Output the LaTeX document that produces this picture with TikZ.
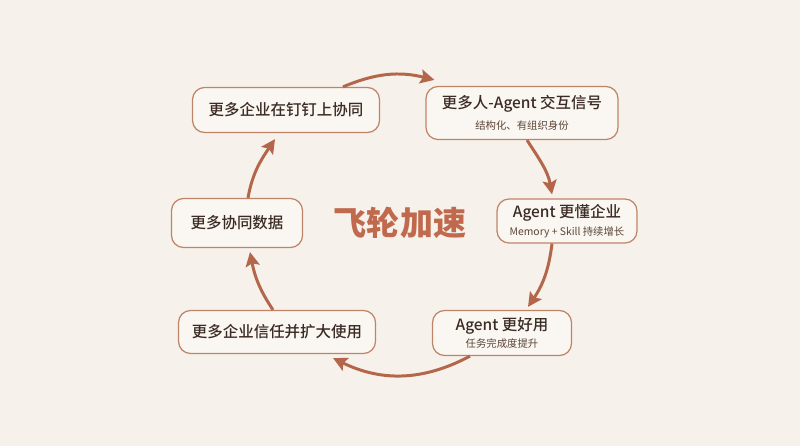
\documentclass[tikz,border=0pt]{standalone}
\usepackage{fontspec}
\setmainfont{Noto Sans CJK SC}
\newfontfamily\medfont{Noto Sans CJK SC Medium}
\usepackage{tikz}
\usetikzlibrary{arrows.meta, positioning}

\definecolor{bgcream}{HTML}{F6F1EB}
\definecolor{boxfill}{HTML}{FAF6F1}
\definecolor{boxline}{HTML}{BF8468}
\definecolor{flowline}{HTML}{B4664A}
\definecolor{darktext}{HTML}{3B2B24}
\definecolor{subtext}{HTML}{5A4638}
\definecolor{hubtext}{HTML}{C0694C}

\begin{document}
\begin{tikzpicture}[x=0.02cm, y=0.02cm]
    \tikzstyle{stage} = [rectangle, draw=boxline, line width=0.7pt, fill=boxfill, rounded corners=0.24cm, align=center, inner sep=0pt, text=darktext, font=\medfont\fontsize{8.8}{10}\selectfont]
    \tikzstyle{flow} = [draw=flowline, line width=1.7pt, -{Stealth[length=8pt, width=8pt, inset=1.5pt]}]

    \fill [bgcream] (0,0) rectangle (800,-446);
    \useasboundingbox (0,0) rectangle (800,-446);

    \node [stage, minimum width=3.74cm, minimum height=0.9cm] (together) at (286,-110) {更多企业在钉钉上协同};
    \node [stage, minimum width=3.84cm, minimum height=1.06cm] (signals) at (522,-113) {更多人-Agent 交互信号\\[2pt]{\normalfont\fontsize{5.9}{7}\selectfont\color{subtext}结构化、有组织身份}};
    \node [stage, minimum width=2.8cm, minimum height=0.88cm] (knows) at (567,-221) {Agent 更懂企业\\{\normalfont\fontsize{5.9}{7}\selectfont\color{subtext}Memory + Skill 持续增长}};
    \node [stage, minimum width=2.78cm, minimum height=0.9cm] (better) at (502,-333) {Agent 更好用\\{\normalfont\fontsize{5.9}{7}\selectfont\color{subtext}任务完成度提升}};
    \node [stage, minimum width=3.94cm, minimum height=0.86cm] (trust) at (277,-332) {更多企业信任并扩大使用};
    \node [stage, minimum width=2.62cm, minimum height=0.98cm] (data) at (237,-223) {更多协同数据};
    \node [text=hubtext, font=\fontsize{18.8}{22}\selectfont\bfseries] (hub) at (400,-223) {飞轮加速};

    \path [flow] ([xshift=1.14cm]together.north) to [out=23, in=166] ([xshift=0.18cm, yshift=0.12cm]signals.north west);
    \path [flow] ([xshift=0.1cm]signals.south) to [out=-57, in=100] ([xshift=-0.3cm, yshift=0.08cm]knows.north);
    \path [flow] ([xshift=-0.3cm]knows.south) to [out=-97, in=56] ([xshift=0.52cm, yshift=0.06cm]better.north);
    \path [flow] ([xshift=-0.64cm]better.south) to [out=-152, in=-26] ([xshift=1.12cm, yshift=-0.08cm]trust.south);
    \path [flow] ([xshift=-0.08cm]trust.north) to [out=124, in=-79] ([xshift=0.26cm, yshift=-0.08cm]data.south);
    \path [flow] ([xshift=0.22cm]data.north) to [out=80, in=-124] ([xshift=-0.22cm, yshift=-0.12cm]together.south);
\end{tikzpicture}
\end{document}
